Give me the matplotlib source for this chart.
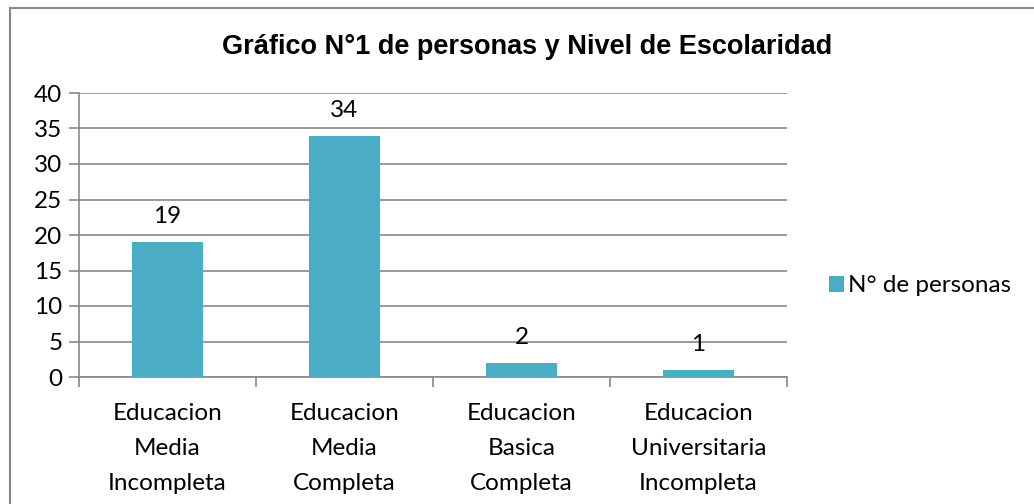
import matplotlib
matplotlib.use("Agg")
import matplotlib.pyplot as plt
from matplotlib.lines import Line2D
from matplotlib.patches import Patch

categories = ["Educacion\nMedia\nIncompleta", "Educacion\nMedia\nCompleta",
              "Educacion\nBasica\nCompleta", "Educacion\nUniversitaria\nIncompleta"]
values = [19, 34, 2, 1]
series_name = "N° de personas"
title = "Gráfico N°1 de personas y Nivel de Escolaridad"
yticks = [0, 5, 10, 15, 20, 25, 30, 35, 40]

bar_color = "#4BACC6"
grid_color = "#888888"
font = ["Lato", "DejaVu Sans"]
fs = 17.5

W, H = 1034, 504
fig = plt.figure(figsize=(W / 100, H / 100), dpi=100)
ax = fig.add_axes([79 / W, 1 - 377 / H, (787 - 79) / W, (377 - 93) / H])

x = list(range(len(categories)))
ax.bar(x, values, width=0.4, color=bar_color, zorder=3)
for xi, v in zip(x, values):
    ax.text(xi, v + 3.6, str(v), ha="center", va="center", fontsize=fs, family=font)

ax.set_xlim(-0.5, len(categories) - 0.5)
ax.set_ylim(0, 40)
ax.set_yticks(yticks)
ax.set_yticklabels([str(t) for t in yticks], fontsize=fs, family=font)
ax.yaxis.grid(True, color=grid_color, linewidth=1.2, zorder=0)
ax.tick_params(axis="y", length=7, width=1.2, color=grid_color, pad=5)

# category labels centered, ticks at boundaries
ax.set_xticks([i - 0.5 for i in range(len(categories) + 1)])
ax.set_xticklabels([])
ax.set_xticks(x, minor=True)
ax.set_xticklabels(categories, minor=True, fontsize=fs, family=font, linespacing=1.8)
ax.tick_params(axis="x", which="major", length=7, width=1.2, color=grid_color)
ax.tick_params(axis="x", which="minor", length=0, pad=19)

for s in ["top", "right"]:
    ax.spines[s].set_visible(False)
for s in ["left", "bottom"]:
    ax.spines[s].set_color(grid_color)
    ax.spines[s].set_linewidth(1.2)

fig.text(527 / W, 1 - 47 / H, title, ha="center", va="center", fontsize=19.5,
         fontweight="bold", family=["Liberation Sans", "DejaVu Sans"])

handle = Patch(facecolor=bar_color)
fig.legend([handle], [series_name], loc="center left", bbox_to_anchor=(829 / W, 1 - 286 / H),
           frameon=False, prop={"family": font, "size": fs}, handlelength=0.6,
           handleheight=0.6, handletextpad=0.2, borderpad=0, borderaxespad=0)

# outer chart border (left and top visible)
fig.add_artist(Line2D([10 / W, 10 / W], [0, 1 - 8 / H], color="#888888", linewidth=1.5))
fig.add_artist(Line2D([10 / W, 1], [1 - 8 / H, 1 - 8 / H], color="#888888", linewidth=1.5))

fig.savefig("out.png", dpi=100)
